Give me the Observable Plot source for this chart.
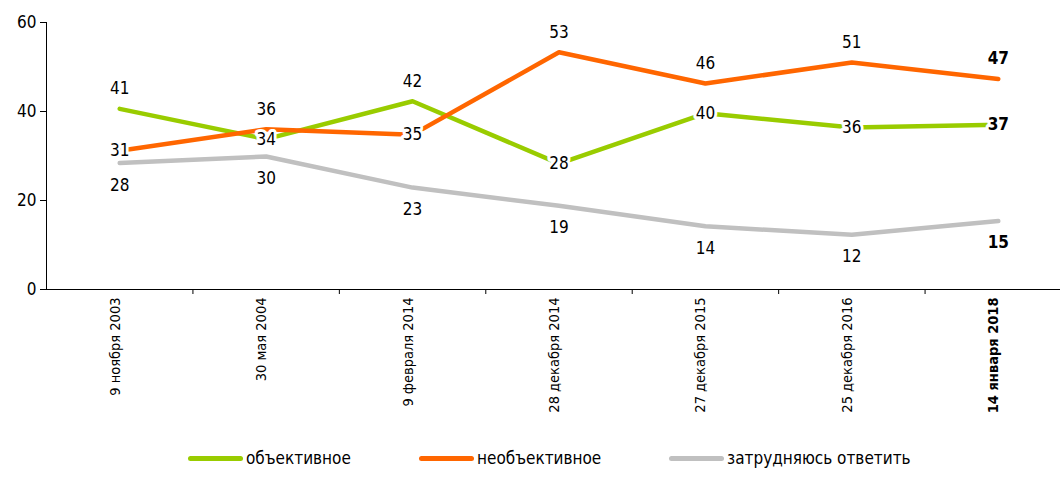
<!DOCTYPE html>
<html><head><meta charset="utf-8">
<script src="https://cdn.jsdelivr.net/npm/d3@7"></script>
<script src="https://cdn.jsdelivr.net/npm/@observablehq/plot@0.6"></script>
<style>
body{margin:0;background:#fff;}
#legend{position:relative;height:40px;width:1060px;font-family:"Liberation Sans Narrow","DejaVu Sans Condensed",sans-serif;font-size:17px;color:#000;}
.item{position:absolute;top:8px;display:flex;align-items:center;white-space:nowrap;}
.sw{display:inline-block;width:55px;height:5px;border-radius:3px;margin-right:3px;}
</style>
</head><body>
<div id="chart"></div>
<div id="legend"></div>
<script>
const dates = ["9 ноября 2003","30 мая 2004","9 февраля 2014","28 декабря 2014","27 декабря 2015","25 декабря 2016","14 января 2018"];
const seriesNames = ["объективное","необъективное","затрудняюсь ответить"];
const colors = ["#99cc00","#ff6600","#c0c0c0"];
const objective = [40.6, 33.8, 42.3, 28.3, 39.6, 36.4, 37.0];
const notObjective = [31.2, 36.0, 34.8, 53.3, 46.3, 51.0, 47.3];
const hardToSay = [28.4, 29.9, 22.9, 18.8, 14.2, 12.3, 15.4];
const objectiveLabels = [41, 34, 42, 28, 40, 36, 37];
const notObjectiveLabels = [31, 36, 35, 53, 46, 51, 47];
const hardToSayLabels = [28, 30, 23, 19, 14, 12, 15];
const objectivePos = ["above","on","above","on","on","on","on"];
const notObjectivePos = ["on","above","on","above","above","above","above"];
const hardToSayPos = ["below","below","below","below","below","below","below"];
const yTicks = [0, 20, 40, 60];
const legendLeft = [188, 419, 669];

const seriesValues = [objective, notObjective, hardToSay];
const seriesLabels = [objectiveLabels, notObjectiveLabels, hardToSayLabels];
const seriesPos = [objectivePos, notObjectivePos, hardToSayPos];
const rows = [];
seriesNames.forEach((s, k) => seriesValues[k].forEach((v, i) => rows.push({series: s, i, v, label: seriesLabels[k][i], pos: seriesPos[k][i]})));
const boundaries = d3.range(dates.length + 1).map(i => i - 0.5);
const last = dates.length - 1;
const font = "'Liberation Sans Narrow','DejaVu Sans Condensed',sans-serif";
const tickFont = "'DejaVu Sans Condensed','DejaVu Sans',sans-serif";
const dyOf = p => p === "above" ? -20 : p === "below" ? 22 : 0;
const lineOrder = [2, 0, 1];

const labelMark = (filter, weight) => ["above","on","below"].map(p =>
  Plot.text(rows.filter(d => d.pos === p && filter(d)), {
    x: "i", y: "v", text: d => String(d.label), dy: dyOf(p),
    fontSize: 17, fontFamily: font, fontWeight: weight, fill: "#000",
    stroke: p === "on" ? "white" : "none", strokeWidth: 6, paintOrder: "stroke"
  }));

const chart = Plot.plot({
  width: 1060, height: 440,
  marginLeft: 46, marginRight: 0, marginTop: 22, marginBottom: 151,
  style: {background: "white", fontFamily: font, overflow: "visible"},
  x: {type: "linear", domain: [-0.5, dates.length - 0.5], range: [46, 1071], axis: null},
  y: {domain: [0, 60], axis: null},
  marks: [
    Plot.ruleX([-0.5], {y1: 0, y2: 60, stroke: "#000", strokeWidth: 1}),
    Plot.ruleY([0], {stroke: "#000", strokeWidth: 1}),
    Plot.axisY(yTicks, {tickSize: 6, tickPadding: 4, fontSize: 17, fontFamily: font, label: null, tickFormat: d => String(d), stroke: "#000"}),
    Plot.axisX(boundaries.slice(1), {tickSize: 5, tickFormat: () => "", label: null, stroke: "#000"}),
    Plot.text(dates.slice(0, last).map((d, i) => ({d, i})), {x: "i", text: "d", frameAnchor: "bottom", dy: 8, rotate: -90, textAnchor: "end", fontSize: 14.5, fontFamily: tickFont, fill: "#000"}),
    Plot.text([{d: dates[last], i: last}], {x: "i", text: "d", frameAnchor: "bottom", dy: 8, rotate: -90, textAnchor: "end", fontSize: 14.5, fontWeight: "bold", fontFamily: tickFont, fill: "#000"}),
    ...lineOrder.map(k => Plot.line(rows.filter(d => d.series === seriesNames[k]), {x: "i", y: "v", stroke: colors[k], strokeWidth: 4.5, strokeLinecap: "round", strokeLinejoin: "round"})),
    ...labelMark(d => d.i !== last, "normal"),
    ...labelMark(d => d.i === last, "bold")
  ]
});
document.getElementById("chart").appendChild(chart);

const legend = document.getElementById("legend");
seriesNames.forEach((s, k) => {
  const it = document.createElement("div");
  it.className = "item";
  it.style.left = legendLeft[k] + "px";
  it.innerHTML = `<span class="sw" style="background:${colors[k]}"></span><span>${s}</span>`;
  legend.appendChild(it);
});
</script>
</body></html>
